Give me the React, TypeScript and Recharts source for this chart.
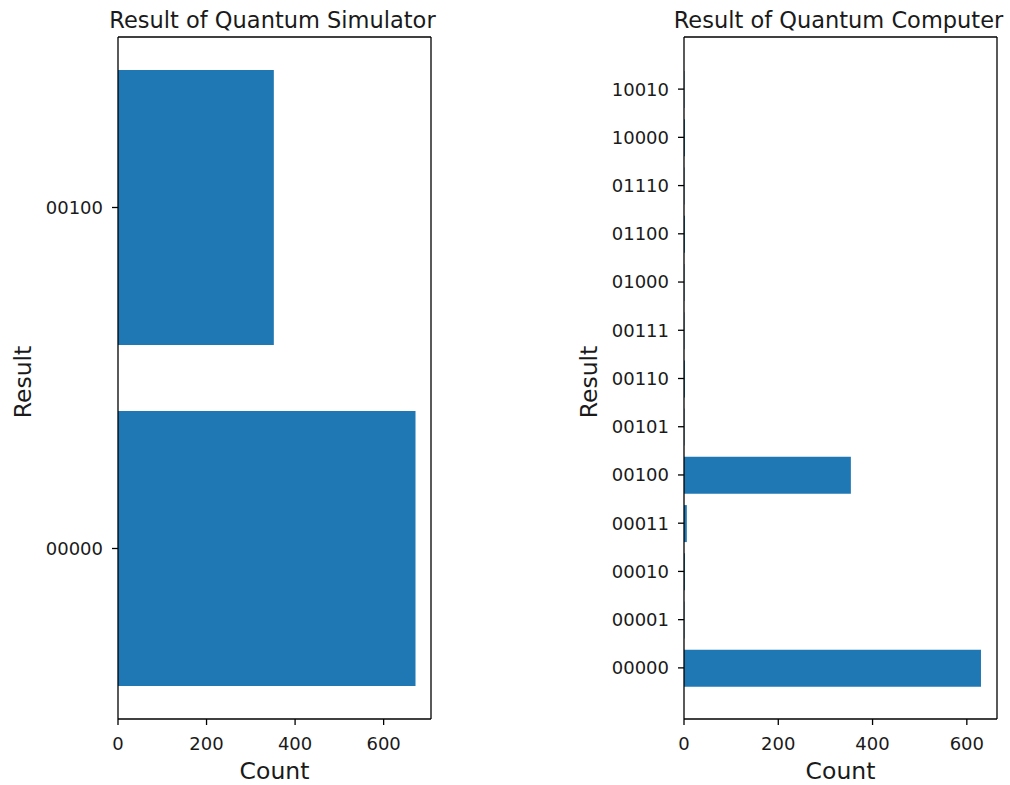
import React from 'react';
import { BarChart, Bar, XAxis, YAxis } from 'recharts';

const simStates = ['00000', '00100'];
const simCounts = [672, 352];

const qcStates = ['00000', '00001', '00010', '00011', '00100', '00101', '00110', '00111', '01000', '01100', '01110', '10000', '10010'];
const qcCounts = [630, 1, 2, 6, 354, 1, 2, 1, 1, 2, 1, 2, 1];

const countTicks = [0, 200, 400, 600];

const BLUE = '#1f77b4';
const INK = '#1a1a1a';
const FONT = '"DejaVu Sans", sans-serif';

const TitleLabel = (text: string) => (props: any) => {
  const vb = props.viewBox || {};
  return (
    <text x={vb.x + vb.width / 2 - 2} y={vb.y + 21} textAnchor="middle" fontSize={22.5} fill={INK} fontFamily={FONT}>
      {text}
    </text>
  );
};

const CountLabel = (props: any) => {
  const vb = props.viewBox || {};
  return (
    <text x={vb.x + vb.width / 2} y={vb.y + 60} textAnchor="middle" fontSize={23.5} fill={INK} fontFamily={FONT}>
      Count
    </text>
  );
};

const ResultLabel = (props: any) => {
  const vb = props.viewBox || {};
  const x = vb.x + 31;
  const y = vb.y + vb.height / 2 + 4;
  return (
    <text x={x} y={y} transform={`rotate(-90 ${x} ${y})`} textAnchor="middle" fontSize={23.5} fill={INK} fontFamily={FONT}>
      Result
    </text>
  );
};

function HistChart({ title, states, counts, xMax, barSize, padTop, padBottom }: any) {
  const data = states.map((s: string, i: number) => ({ state: s, count: counts[i] }));
  const tickStyle = { fontSize: 18, fill: INK, fontFamily: FONT };
  const axisLine = { stroke: '#000', strokeWidth: 1.3 };
  return (
    <BarChart
      width={441}
      height={785}
      data={data}
      layout="vertical"
      margin={{ top: 7, right: 9, bottom: 0, left: 0 }}
      barSize={barSize}
    >
      <XAxis
        type="number"
        dataKey="count"
        domain={[0, xMax]}
        ticks={countTicks}
        allowDataOverflow
        height={66}
        tickSize={6}
        tickMargin={12}
        tick={tickStyle}
        tickLine={{ stroke: '#000', strokeWidth: 1.3 }}
        axisLine={axisLine}
        label={{ content: CountLabel }}
      />
      <XAxis
        xAxisId="top"
        orientation="top"
        type="number"
        domain={[0, xMax]}
        allowDataOverflow
        height={30}
        tick={false}
        tickLine={false}
        axisLine={axisLine}
        label={{ content: TitleLabel(title) }}
      />
      <YAxis
        type="category"
        dataKey="state"
        reversed
        width={118}
        padding={{ top: padTop, bottom: padBottom }}
        tickSize={6}
        tickMargin={9}
        tick={tickStyle}
        tickLine={{ stroke: '#000', strokeWidth: 1.3 }}
        axisLine={axisLine}
        label={{ content: ResultLabel }}
      />
      <YAxis
        yAxisId="right"
        orientation="right"
        type="category"
        dataKey="state"
        width={1}
        tick={false}
        tickLine={false}
        axisLine={axisLine}
      />
      <Bar dataKey="count" fill={BLUE} isAnimationActive={false} />
    </BarChart>
  );
}

export default function App() {
  return (
    <div style={{ position: 'absolute', left: 0, top: 0, width: 1010, height: 785, background: '#fff' }}>
      <div style={{ position: 'absolute', left: 0, top: 0 }}>
        <HistChart title="Result of Quantum Simulator" states={simStates} counts={simCounts} xMax={707} barSize={275} padTop={0} padBottom={0} />
      </div>
      <div style={{ position: 'absolute', left: 566, top: 0 }}>
        <HistChart title="Result of Quantum Computer" states={qcStates} counts={qcCounts} xMax={664} barSize={37} padTop={28} padBottom={27} />
      </div>
    </div>
  );
}
